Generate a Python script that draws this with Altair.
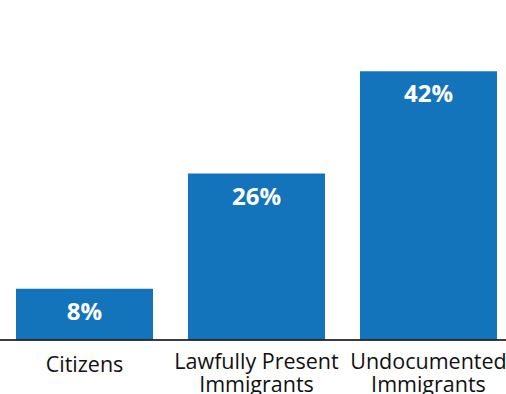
import altair as alt
import pandas as pd

categories = ["Citizens", "Lawfully Present\nImmigrants", "Undocumented\nImmigrants"]
values = [8, 26, 42]
value_labels = ["8%", "26%", "42%"]

df = pd.DataFrame({"cat": categories, "val": values, "lab": value_labels})

x = alt.X("cat:N", sort=categories, axis=None,
          scale=alt.Scale(paddingInner=0.2035, paddingOuter=0.0727, align=0.64))
y = alt.Y("val:Q", axis=None, scale=alt.Scale(domain=[0, 50], nice=False))

base = alt.Chart(df)

bars = base.mark_bar(color="#1474BB").encode(x=x, y=y)

vals = base.mark_text(color="white", font="Open Sans", fontWeight="bold", fontSize=24,
                      baseline="alphabetic", dy=31).encode(x=x, y=y, text="lab:N")

cat_style = dict(color="#111111", font="Open Sans", fontSize=21.5,
                 baseline="alphabetic", lineBreak="\n", lineHeight=23)

cats_multi = base.mark_text(**cat_style).encode(
    x=x, y=alt.value(348.5), text="cat:N"
).transform_filter("indexof(datum.cat, '\\n') >= 0")

cats_single = base.mark_text(**cat_style).encode(
    x=x, y=alt.value(351.5), text="cat:N"
).transform_filter("indexof(datum.cat, '\\n') < 0")

rule = base.mark_rule(color="#222222", strokeWidth=1.2).encode(
    x=alt.value(0), x2=alt.value(506), y=alt.value(320))

chart = alt.layer(bars, vals, cats_multi, cats_single, rule).properties(
    width=506, height=320,
    autosize=alt.AutoSizeParams(type="none"),
    padding={"top": 20, "left": 0, "right": 0, "bottom": 54},
).configure_view(stroke=None)

chart.save("out.html", embed_options={"renderer": "svg", "actions": False})
